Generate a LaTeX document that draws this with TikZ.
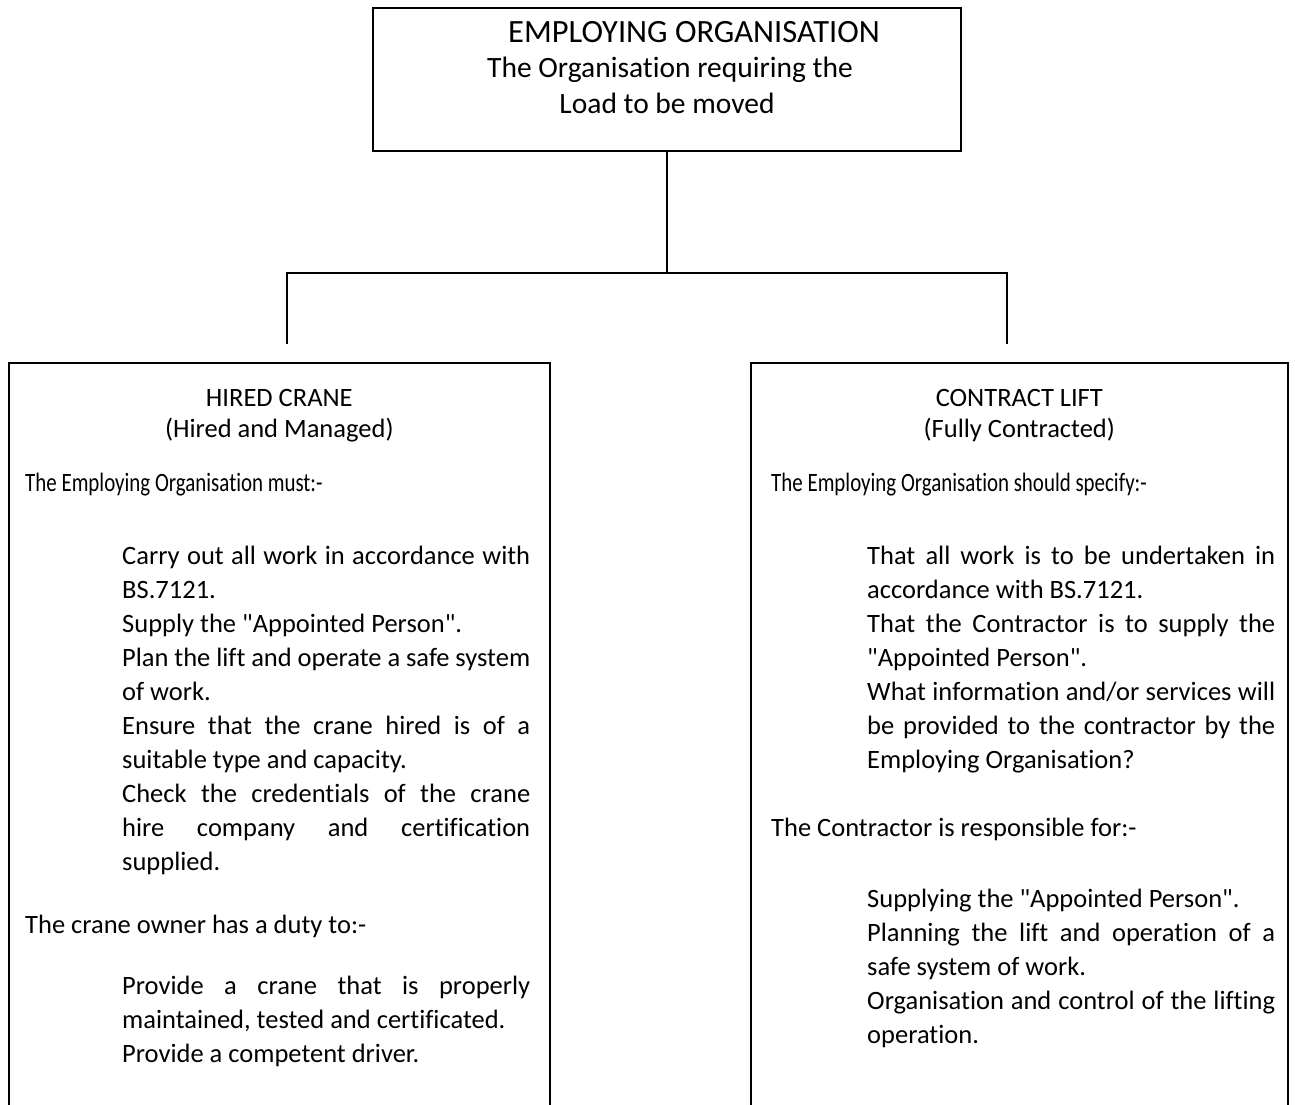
\documentclass[tikz,border=0pt]{standalone}
\usepackage{fontspec}
\setmainfont{Carlito}[Ligatures={TeXOff,NoCommon}]
\usetikzlibrary{positioning, calc}

\newlength{\dutywd}
\setlength{\dutywd}{408pt}
\newcommand{\bodysize}{\fontsize{26.5pt}{34pt}\selectfont}
\newcommand{\topsize}{\fontsize{29.5pt}{36pt}\selectfont}
\newcommand{\fullline}[1]{\makebox[\dutywd][s]{\spaceskip=0pt\xspaceskip=0pt #1}}
\newcommand{\narrow}{\addfontfeatures{FakeStretch=0.79}}

\begin{document}
\begin{tikzpicture}[x=1pt, y=-1pt]
    % Styles
    \tikzstyle{panel} = [rectangle, draw, line width=1.6pt, inner sep=0pt]
    \tikzstyle{toptext} = [font=\topsize, inner sep=0pt, anchor=base]
    \tikzstyle{heading} = [font=\bodysize, inner sep=0pt, anchor=base]
    \tikzstyle{lead} = [font=\bodysize, inner sep=0pt, anchor=base west]
    \tikzstyle{duties} = [lead, text width=\dutywd, align=flush left]
    \tikzstyle{link} = [line width=1.6pt]

    \useasboundingbox (0,0) rectangle (1295,1104);

    % Boxes
    \node [panel, minimum width=588pt, minimum height=143pt] (emp) at (667,79.5) {};
    \node [panel, anchor=north west, minimum width=541pt, minimum height=780pt] (hired) at (8,362) {};
    \node [panel, anchor=north west, minimum width=537pt, minimum height=780pt] (contract) at (750,362) {};

    % Top box text
    \node [toptext, font=\fontsize{32.5pt}{36pt}\selectfont] (emptitle) at (694,42) {EMPLOYING ORGANISATION};
    \node [toptext] (empsub) at (670,77) {The Organisation requiring the};
    \node [toptext] (empload) at (667,113) {Load to be moved};

    % Hired crane
    \node [heading] (hiredhead) at (hired.north |- 0,406) {HIRED CRANE};
    \node [heading] (hiredsub) at (hired.north |- 0,437) {(Hired and Managed)};
    \node [lead] (hiredmust) at (25,491) {\narrow The Employing Organisation must:-};
    \node [duties] (hiredlist) at (122,564) {\fullline{Carry out all work in accordance with}\\
        BS.7121.\\
        Supply the "Appointed Person".\\
        \fullline{Plan the lift and operate a safe system}\\
        of work.\\
        \fullline{Ensure that the crane hired is of a}\\
        suitable type and capacity.\\
        \fullline{Check the credentials of the crane}\\
        \fullline{hire company and certification}\\
        supplied.};
    \node [lead] (owner) at (25,933) {The crane owner has a duty to:-};
    \node [duties] (ownerlist) at (122,994) {\fullline{Provide a crane that is properly}\\
        maintained, tested and certificated.\\
        Provide a competent driver.};

    % Contract lift
    \node [heading] (contracthead) at (contract.north |- 0,406) {CONTRACT LIFT};
    \node [heading] (contractsub) at (contract.north |- 0,437) {(Fully Contracted)};
    \node [lead] (contractspec) at (771,491) {\narrow The Employing Organisation should specify:-};
    \node [duties] (contractlist) at (867,564) {\fullline{That all work is to be undertaken in}\\
        accordance with BS.7121.\\
        \fullline{That the Contractor is to supply the}\\
        "Appointed Person".\\
        \fullline{What information and/or services will}\\
        \fullline{be provided to the contractor by the}\\
        Employing Organisation?};
    \node [lead] (contractor) at (771,836) {The Contractor is responsible for:-};
    \node [duties] (contractorlist) at (867,907) {Supplying the "Appointed Person".\\
        \fullline{Planning the lift and operation of a}\\
        safe system of work.\\
        \fullline{Organisation and control of the lifting}\\
        operation.};

    % Connectors
    \coordinate (forkL) at (287,273);
    \coordinate (forkR) at (1007,273);
    \coordinate (dropL) at (287,344);
    \coordinate (dropR) at (1007,344);
    \draw [link] (emp.south) -- (emp.south |- forkL);
    \draw [link] (dropL) -- (forkL) -- (forkR) -- (dropR);
\end{tikzpicture}
\end{document}
